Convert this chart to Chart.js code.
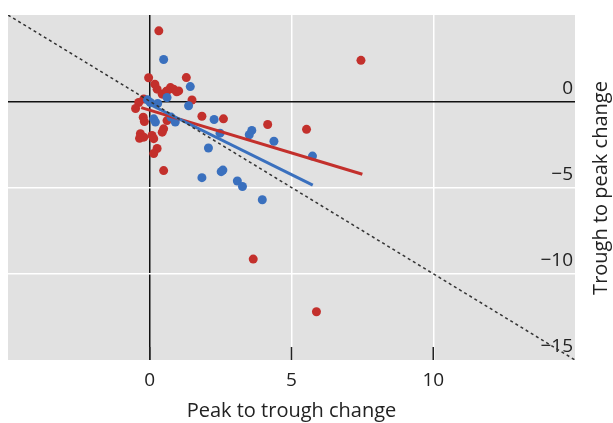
<!DOCTYPE html>
<html><head><meta charset="utf-8">
<script src="https://cdn.jsdelivr.net/npm/chart.js@4.4.1/dist/chart.umd.min.js"></script>
<style>html,body{margin:0;padding:0;background:#fff;}canvas{display:block}</style>
</head><body>
<canvas id="c" width="613" height="423"></canvas>
<script>
// Red series (peak-to-trough change, trough-to-peak change)
const redX = [0.32, 7.45, -0.04, 0.18, 0.26, 1.29, 0.44, 0.58, 0.73, 0.84, 1.02, 0.61, 0.95, 1.49, -0.21, -0.39, -0.50, -0.23, -0.19, 0.61, 0.49, 0.44, 1.84, 2.60, 4.16, 5.53, -0.33, -0.21, 0.08, 0.14, -0.36, 0.26, 0.14, 0.49, 3.65, 5.88];
const redY = [4.08, 2.37, 1.36, 0.99, 0.70, 1.37, 0.41, 0.56, 0.79, 0.70, 0.60, 0.60, 0.55, 0.07, 0.13, -0.07, -0.42, -0.93, -1.18, -1.12, -1.60, -1.79, -0.87, -1.02, -1.35, -1.63, -1.88, -2.08, -1.98, -2.17, -2.15, -2.74, -3.03, -4.02, -9.15, -12.2];
// Blue series
const blueX = [0.49, 1.43, 0.61, -0.08, 0.02, 0.28, 1.37, 0.14, 0.20, 0.90, 0.75, 2.27, 2.48, 2.07, 1.84, 3.60, 3.51, 4.38, 5.74, 2.58, 2.52, 3.09, 3.27, 3.97];
const blueY = [2.42, 0.85, 0.22, 0.08, -0.07, -0.13, -0.26, -1.02, -1.21, -1.21, -0.92, -1.06, -1.85, -2.71, -4.43, -1.69, -1.94, -2.32, -3.18, -3.99, -4.08, -4.62, -4.94, -5.71];
// Fitted lines (end points)
const redFitX = [-0.3, 7.5];
const redFitY = [-0.37, -4.23];
const blueFitX = [-0.1, 5.75];
const blueFitY = [-0.10, -4.86];
// 45-degree reference line
const diagX = [-5, 15];
const diagY = [5, -15];
// Axis ticks
const xTicks = [0, 5, 10];
const yTicks = [0, -5, -10, -15];
const xTitle = 'Peak to trough change';
const yTitle = 'Trough to peak change';

const RED = '#c3302c', BLUE = '#3a70be';
const FONT = "'Open Sans', 'Noto Sans', sans-serif";
const pts = (xs, ys) => xs.map((x, i) => ({x: x, y: ys[i]}));

const decor = {
  id: 'decor',
  beforeDraw(chart) {
    const {ctx, chartArea: a} = chart;
    ctx.save();
    ctx.fillStyle = '#e1e1e1';
    ctx.fillRect(a.left, a.top, a.right - a.left, a.bottom - a.top);
    ctx.restore();
  },
  afterDatasetsDraw(chart) {
    const {ctx, chartArea: a, scales: {x}} = chart;
    ctx.save();
    ctx.strokeStyle = '#222';
    ctx.lineWidth = 1.5;
    xTicks.forEach(v => {
      const px = x.getPixelForValue(v);
      ctx.beginPath(); ctx.moveTo(px, a.bottom); ctx.lineTo(px, a.bottom - 13); ctx.stroke();
    });
    ctx.restore();
  },
  afterDraw(chart) {
    const {ctx} = chart;
    ctx.save();
    ctx.translate(601, 188);
    ctx.rotate(-Math.PI / 2);
    ctx.fillStyle = '#222';
    ctx.font = '20px ' + FONT;
    ctx.textAlign = 'center';
    ctx.textBaseline = 'middle';
    ctx.fillText(yTitle, 0, 0);
    ctx.restore();
  }
};

new Chart(document.getElementById('c'), {
  type: 'scatter',
  data: {
    datasets: [
      {data: pts(diagX, diagY), showLine: true, borderColor: '#333', borderWidth: 1.5, borderDash: [3, 3], pointRadius: 0, order: 0},
      {data: pts(blueFitX, blueFitY), showLine: true, borderColor: BLUE, borderWidth: 3, pointRadius: 0, order: 1},
      {data: pts(redFitX, redFitY), showLine: true, borderColor: RED, borderWidth: 3, pointRadius: 0, order: 1},
      {data: pts(blueX, blueY), backgroundColor: BLUE, borderWidth: 0, pointRadius: 4.5, order: 2},
      {data: pts(redX, redY), backgroundColor: RED, borderWidth: 0, pointRadius: 4.5, order: 3}
    ]
  },
  options: {
    responsive: false,
    animation: false,
    events: [],
    layout: {padding: {left: 8, top: 15, right: 38, bottom: 0}},
    plugins: {legend: {display: false}, tooltip: {enabled: false}},
    scales: {
      x: {
        type: 'linear', min: -5, max: 15,
        afterBuildTicks: s => { s.ticks = xTicks.map(v => ({value: v})); },
        afterFit: s => { s.height = 63; },
        border: {display: false},
        grid: {
          drawTicks: false,
          color: c => c.tick && c.tick.value === 0 ? '#111' : '#ffffff',
          lineWidth: 1.5
        },
        ticks: {padding: 9, color: '#222', font: {family: FONT, size: 19}, callback: v => String(v)},
        title: {display: true, text: xTitle, color: '#222', font: {family: FONT, size: 20}, padding: {top: 0, bottom: 0}}
      },
      y: {
        type: 'linear', position: 'right', min: -15, max: 5,
        afterBuildTicks: s => { s.ticks = yTicks.map(v => ({value: v})); },
        afterFit: s => { s.width = 0; },
        border: {display: false},
        grid: {
          drawTicks: false,
          color: c => !c.tick ? 'rgba(0,0,0,0)' : (c.tick.value === 0 ? '#111' : (c.tick.value === -15 ? 'rgba(0,0,0,0)' : '#ffffff')),
          lineWidth: 1.5
        },
        ticks: {mirror: true, padding: -2, labelOffset: -13, color: '#222', font: {family: FONT, size: 19},
          callback: v => v < 0 ? '\u2212' + Math.abs(v) : String(v)}
      }
    }
  },
  plugins: [decor]
});
</script>
</body></html>
